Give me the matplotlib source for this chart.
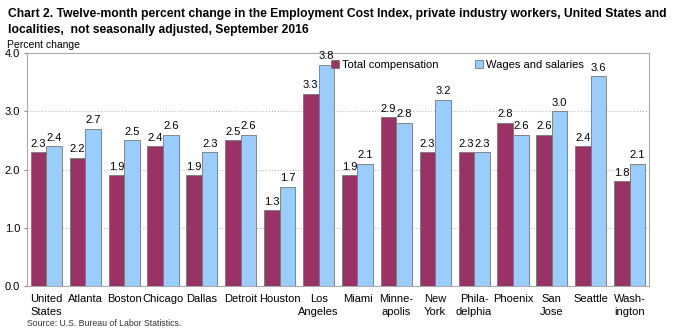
import numpy as np
import matplotlib.pyplot as plt

plt.rcParams['font.family'] = ['Liberation Sans', 'DejaVu Sans']

areas = ['United\nStates', 'Atlanta', 'Boston', 'Chicago', 'Dallas', 'Detroit',
         'Houston', 'Los\nAngeles', 'Miami', 'Minne-\napolis', 'New\nYork',
         'Phila-\ndelphia', 'Phoenix', 'San\nJose', 'Seattle', 'Wash-\nington']
total_comp = [2.3, 2.2, 1.9, 2.4, 1.9, 2.5, 1.3, 3.3, 1.9, 2.9, 2.3, 2.3, 2.8, 2.6, 2.4, 1.8]
wages = [2.4, 2.7, 2.5, 2.6, 2.3, 2.6, 1.7, 3.8, 2.1, 2.8, 3.2, 2.3, 2.6, 3.0, 3.6, 2.1]

maroon = '#993366'
lightblue = '#99ccff'

fig = plt.figure(figsize=(6.74, 3.34), dpi=100)
ax = fig.add_axes([0.040, 0.144, 0.923, 0.697])

x = np.arange(len(areas))
w = 0.4
b1 = ax.bar(x - w / 2, total_comp, w, color=maroon, edgecolor='#777777',
            linewidth=0.6, label='Total compensation', zorder=3)
b2 = ax.bar(x + w / 2, wages, w, color=lightblue, edgecolor='#777777',
            linewidth=0.6, label='Wages and salaries', zorder=3)

# value labels above each bar
for bars, vals in ((b1, total_comp), (b2, wages)):
    for r, v in zip(bars, vals):
        ax.text(r.get_x() + r.get_width() / 2, v + 0.06, f'{v:.1f}',
                ha='center', va='bottom', fontsize=8, zorder=4)

ax.set_xlim(-0.5, len(areas) - 0.5)
ax.set_ylim(0, 4.0)
ax.set_yticks([0, 1, 2, 3, 4])
ax.set_yticklabels(['0.0', '1.0', '2.0', '3.0', '4.0'], fontsize=8)
ax.set_xticks(x)
ax.set_xticklabels(areas, fontsize=8, linespacing=1.3)
ax.tick_params(axis='x', length=0, pad=6)
ax.tick_params(axis='y', length=2, pad=3, color='#888888')
ax.yaxis.grid(True, linestyle=':', color='#bbbbbb', linewidth=0.8, zorder=0)
for s in ax.spines.values():
    s.set_color('#aaaaaa')
    s.set_linewidth(0.8)

ax.legend(loc='upper left', bbox_to_anchor=(0.478, 1.0), ncol=2, frameon=False,
          fontsize=8, handlelength=0.7, handleheight=0.7, handletextpad=0.3,
          columnspacing=3.3, borderaxespad=0.2)

fig.text(0.012, 0.975, 'Chart 2. Twelve-month percent change in the Employment Cost Index, '
         'private industry workers, United States and\nlocalities,  not seasonally '
         'adjusted, September 2016', fontsize=8.7, fontweight='bold', va='top',
         linespacing=1.4)
fig.text(0.010, 0.864, 'Percent change', fontsize=7.5, va='center')
fig.text(0.040, 0.030, 'Source: U.S. Bureau of Labor Statistics.', fontsize=6.3,
         va='center', color='#333333')

fig.savefig('out.png', dpi=100)
